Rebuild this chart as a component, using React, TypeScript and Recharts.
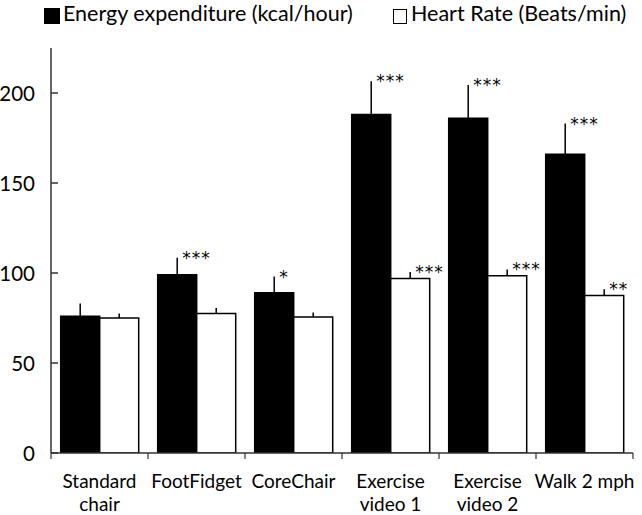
import React from 'react';
import { BarChart, Bar, XAxis, YAxis, ErrorBar, LabelList } from 'recharts';

// ─── Data ─────────────────────────────────────────────────────────────────────

const categories = ['Standard\nchair', 'FootFidget', 'CoreChair', 'Exercise\nvideo 1', 'Exercise\nvideo 2', 'Walk 2 mph'];
const energy = [76, 99, 89, 188, 186, 166];
const energyErr = [7, 9.5, 9, 18.5, 18.5, 17];
const heartRate = [75, 77.5, 75.5, 97, 98.5, 87.5];
const heartRateErr = [2.5, 3, 2.5, 3.5, 3.5, 3.5];
const energyStars = ['', '***', '*', '***', '***', '***'];
const heartRateStars = ['', '', '', '***', '***', '**'];
const yTicks = [0, 50, 100, 150, 200];

const FONT = 'Lato, "Open Sans", sans-serif';

const data = categories.map((name, i) => ({
  name,
  energy: energy[i],
  energyErr: [0, energyErr[i]],
  heartRate: heartRate[i],
  heartRateErr: [0, heartRateErr[i]],
}));

// ─── Ticks ────────────────────────────────────────────────────────────────────

function YTick({ x, y, payload }: any) {
  return (
    <g>
      <line x1={x + 16} x2={x + 23} y1={y} y2={y} stroke="#333" strokeWidth={1.5} />
      <text x={x} y={y} dy={7.5} textAnchor="end" fontSize={20.5} fill="#000" fontFamily={FONT}>
        {payload.value}
      </text>
    </g>
  );
}

function XTick({ x, y, payload, index }: any) {
  const half = payload.offset ?? 48.5;
  const lines = String(payload.value).split('\n');
  return (
    <g>
      <line x1={x - half} x2={x - half} y1={y - 8} y2={y - 2} stroke="#333" strokeWidth={1.2} />
      {index === categories.length - 1 && (
        <line x1={x + half} x2={x + half} y1={y - 8} y2={y - 2} stroke="#333" strokeWidth={1.2} />
      )}
      {lines.map((l, i) => (
        <text key={i} x={x} y={y + 27 + i * 23} textAnchor="middle" fontSize={19} fill="#000" fontFamily={FONT}>
          {l}
        </text>
      ))}
    </g>
  );
}

// ─── Significance stars ───────────────────────────────────────────────────────

function starLabel(stars: string[], errs: number[]) {
  return (props: any) => {
    const { x, y, width, height, value, index } = props;
    const s = stars[index];
    if (!s) return null;
    const pxPerUnit = Number(height) / Number(value);
    const errTop = Number(y) - errs[index] * pxPerUnit;
    return (
      <text
        x={Number(x) + Number(width) / 2 + 5}
        y={errTop + 6}
        fontSize={17}
        letterSpacing={1}
        fill="#000"
        fontFamily='"DejaVu Sans", sans-serif'
      >
        {s}
      </text>
    );
  };
}

// ─── Legend ───────────────────────────────────────────────────────────────────

function LegendBox() {
  const text = { fontFamily: FONT, fontSize: 21.5, color: '#000', position: 'absolute' as const, top: 0, whiteSpace: 'nowrap' as const };
  return (
    <>
      <div style={{ position: 'absolute', left: 44, top: 8, width: 16, height: 16, background: '#000' }} />
      <div style={{ ...text, left: 63 }}>Energy expenditure (kcal/hour)</div>
      <div style={{ position: 'absolute', left: 393, top: 9, width: 12, height: 13, background: '#fff', border: '1px solid #000' }} />
      <div style={{ ...text, left: 411 }}>Heart Rate (Beats/min)</div>
    </>
  );
}

export default function App() {
  return (
    <div style={{ position: 'absolute', left: 0, top: 0, width: 642, height: 515, background: '#fff' }}>
      <LegendBox />
      <BarChart
        width={642}
        height={515}
        data={data}
        margin={{ top: 48, right: 9, left: 0, bottom: 0 }}
        barCategoryGap="10%"
        barGap={0}
      >
        <XAxis
          dataKey="name"
          height={62}
          interval={0}
          tickLine={false}
          tick={<XTick />}
          stroke="#333"
          strokeWidth={1.5}
        />
        <YAxis
          domain={[0, 225]}
          ticks={yTicks}
          width={51}
          tickSize={0}
          tickMargin={16}
          tickLine={false}
          tick={<YTick />}
          stroke="#333"
          strokeWidth={1.5}
          allowDataOverflow
        />
        <Bar dataKey="energy" fill="#000" stroke="#000" strokeWidth={1.5} isAnimationActive={false}>
          <ErrorBar dataKey="energyErr" width={0} stroke="#000" strokeWidth={1.5} direction="y" />
          <LabelList dataKey="energy" content={starLabel(energyStars, energyErr)} />
        </Bar>
        <Bar dataKey="heartRate" fill="#fff" stroke="#000" strokeWidth={1.5} isAnimationActive={false}>
          <ErrorBar dataKey="heartRateErr" width={0} stroke="#000" strokeWidth={1.5} direction="y" />
          <LabelList dataKey="heartRate" content={starLabel(heartRateStars, heartRateErr)} />
        </Bar>
      </BarChart>
    </div>
  );
}
